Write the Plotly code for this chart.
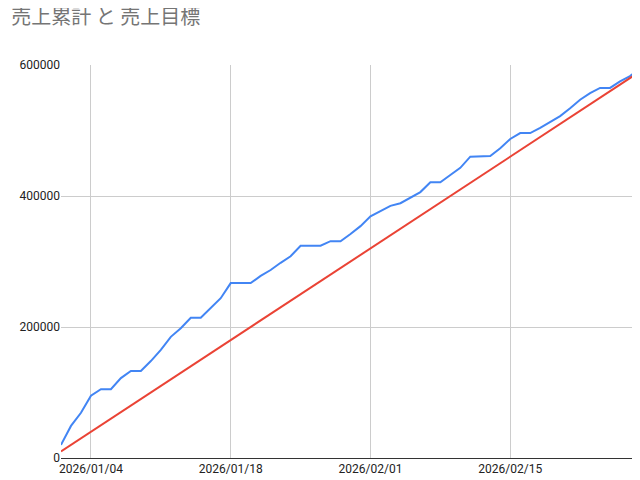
import plotly.graph_objects as go
import pandas as pd

dates = pd.date_range("2026-01-01", "2026-02-28", freq="D")
cumulative = [20000,49000,69000,95000,105000,105000,122000,133000,133000,148000,
              165000,185000,198000,214000,214000,229000,244000,267000,267000,267000,
              278000,287000,298000,308000,324000,324000,324000,331000,331000,342000,
              354000,369000,377000,385000,389000,397000,406000,421000,421000,432000,
              443000,460000,460000,461000,473000,487000,496000,496000,504000,513000,
              522000,534000,547000,557000,565000,565000,575000,583000,595000]
target = [10000*(i+1) for i in range(len(dates))]
tick_dates = ["2026-01-04","2026-01-18","2026-02-01","2026-02-15"]
tick_labels = ["2026/01/04","2026/01/18","2026/02/01","2026/02/15"]

fig = go.Figure()
fig.add_trace(go.Scatter(x=dates, y=cumulative, mode="lines", line=dict(color="#4285F4", width=2)))
fig.add_trace(go.Scatter(x=dates, y=target, mode="lines", line=dict(color="#EA4335", width=2)))
fig.update_layout(
    width=640, height=480, showlegend=False,
    paper_bgcolor="white", plot_bgcolor="white",
    margin=dict(l=53, r=8, t=57, b=30, autoexpand=False),
    font=dict(family="Roboto, Noto Sans CJK JP", color="#222", size=12),
    title=dict(text="売上累計 と 売上目標", x=0.005, xanchor="left", y=0.995, yanchor="top",
               font=dict(size=20, color="#757575", family="Noto Sans CJK JP")),
)
fig.update_xaxes(range=["2026-01-01", "2026-02-28"], tickvals=tick_dates, ticktext=tick_labels,
                 showgrid=True, gridcolor="#cccccc", showline=True, linecolor="#333",
                 zeroline=False, automargin=False)
fig.update_yaxes(range=[0, 600000], tickvals=[0,200000,400000,600000],
                 ticktext=["0","200000","400000","600000"],
                 showgrid=True, gridcolor="#cccccc", zeroline=False, automargin=False)
fig.write_html("out.html")
